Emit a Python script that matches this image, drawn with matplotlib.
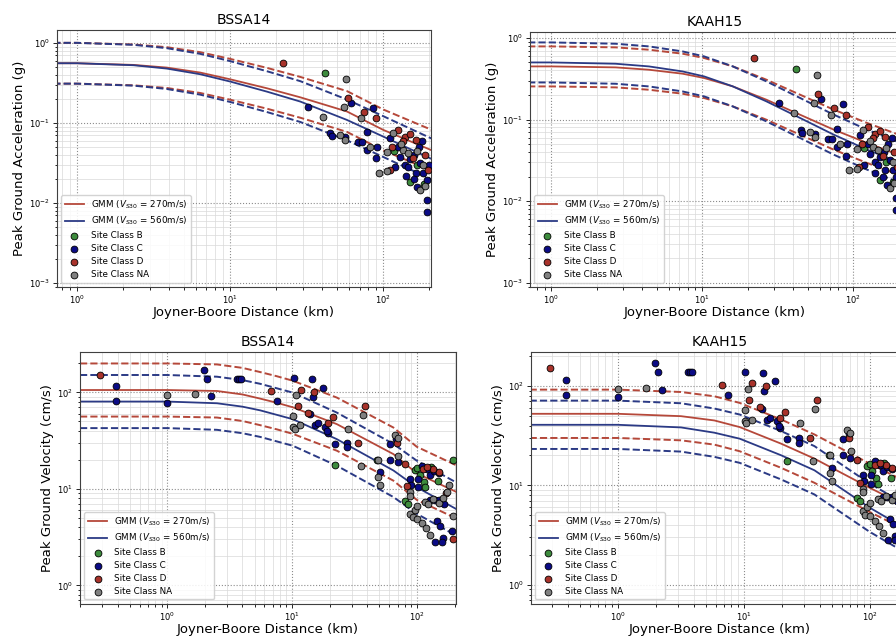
import matplotlib
matplotlib.use("Agg")
import matplotlib.pyplot as plt

# ---- observed PGA (g) vs Joyner-Boore distance (km), by site class ----
pga_B_r = [41.8, 118, 150, 165, 185]
pga_B_y = [0.42, 0.045, 0.018, 0.030, 0.017]
pga_C_r = [32.3, 61.6, 45, 46, 56, 68, 73, 78, 78, 86, 90, 91, 111, 119, 125, 129, 139, 146,
           163, 167, 170, 183, 193, 193, 193, 150, 160, 175, 140, 180, 200, 158]
pga_C_y = [0.158, 0.178, 0.075, 0.068, 0.067, 0.058, 0.058, 0.077, 0.046, 0.154, 0.036, 0.050,
           0.065, 0.028, 0.050, 0.038, 0.030, 0.028, 0.024, 0.016, 0.050, 0.024, 0.0195, 0.011,
           0.0077, 0.035, 0.040, 0.032, 0.022, 0.060, 0.030, 0.020]
pga_D_r = [22.2, 59, 75.2, 90, 114, 125, 139, 157, 163, 188, 196, 110, 135, 150]
pga_D_y = [0.56, 0.205, 0.137, 0.115, 0.050, 0.082, 0.067, 0.036, 0.061, 0.040, 0.026, 0.026,
           0.060, 0.072]
pga_NA_r = [57.3, 55.4, 40.5, 52, 56, 71.1, 82, 94, 106, 106, 116, 135, 146, 175, 183, 188,
            130, 165]
pga_NA_y = [0.355, 0.158, 0.119, 0.071, 0.061, 0.115, 0.050, 0.024, 0.025, 0.043, 0.075, 0.046,
            0.042, 0.0145, 0.030, 0.0165, 0.055, 0.045]

# ---- observed PGV (cm/s) ----
pgv_B_r = [22, 47.5, 80, 84, 96, 105, 113, 116, 147, 195, 100, 130]
pgv_B_y = [17.8, 20, 7.5, 7.0, 15.8, 14, 11.8, 10.4, 12, 20, 16.5, 17]
pgv_C_r = [0.39, 0.39, 1.0, 1.98, 2.08, 2.24, 3.6, 3.75, 3.9, 7.5, 10.3, 14.3, 14.6, 17.8, 13.9,
           15.3, 16.2, 18.4, 19.4, 18.9, 22, 27.5, 27.5, 50.5, 61, 68, 61, 70, 88, 90, 102, 102,
           127, 127, 138, 150, 144, 152, 160, 139, 110, 120, 136, 150, 164, 158, 190]
pgv_C_y = [116, 81, 77, 169, 138, 92, 137, 137, 137, 81, 139, 136, 90, 112, 59, 46, 48, 44, 38,
           40, 29, 30, 27, 15, 29, 33, 20, 19, 12.7, 11, 12.6, 10.4, 14, 7.7, 7.7, 7.7, 4.6,
           4.1, 3.1, 2.8, 17.4, 16, 15.3, 14.5, 6.9, 2.8, 3.7]
pgv_D_r = [0.29, 6.76, 11.7, 11.1, 14.9, 13.4, 19.3, 21.3, 33.5, 38.3, 69, 80, 83, 111, 150,
           135, 195, 120, 170]
pgv_D_y = [151, 102, 106, 72, 101, 61, 48, 55, 30, 72, 30, 18, 10.7, 16, 15, 16, 3.0, 17, 9]
pgv_NA_r = [1.0, 1.67, 10.8, 10.2, 10.2, 10.5, 11.6, 28, 36.7, 35.6, 48.5, 48.5, 50.5, 66, 70,
            71, 88, 88, 88, 92, 96, 100, 100, 110, 118, 127, 116, 123, 135, 150, 173, 195, 160,
            180]
pgv_NA_y = [94, 95, 94, 57, 44, 42, 46, 42, 58, 17.4, 20, 13.3, 11, 36, 34, 22, 9.3, 8.5, 5.5,
            5.1, 6.1, 6.6, 4.9, 4.4, 3.9, 3.3, 7.3, 7.0, 7.8, 7.2, 9.3, 5.2, 8, 11]

# ---- GMM medians (270 m/s and 560 m/s) ----
bssa_pga_r = [0.7, 1.0, 2.34, 3.85, 6.37, 10.0, 17.4, 28.7, 57.9, 100, 210]
bssa_pga_270 = [0.557, 0.557, 0.531, 0.492, 0.426, 0.351, 0.271, 0.209, 0.139, 0.0818, 0.045]
bssa_pga_560 = [0.557, 0.557, 0.526, 0.478, 0.406, 0.329, 0.246, 0.185, 0.109, 0.0675, 0.035]

kaah_pga_r = [0.7, 1.0, 2.66, 4.43, 7.4, 10.3, 15.9, 26.6, 44.3, 74, 123, 210]
kaah_pga_270 = [0.447, 0.447, 0.435, 0.407, 0.364, 0.322, 0.255, 0.175, 0.115, 0.0755, 0.0519,
                0.036]
kaah_pga_560 = [0.50, 0.50, 0.482, 0.447, 0.388, 0.337, 0.255, 0.167, 0.105, 0.0656, 0.043,
                0.029]

bssa_pgv_r = [0.2, 1.0, 2.5, 4.0, 5.55, 7.5, 10.1, 22.8, 64.7, 99.4, 210]
bssa_pgv_270 = [105.6, 105.6, 103.2, 95.0, 86.0, 78.0, 70.0, 46.8, 22.9, 14.5, 9.2]
bssa_pgv_560 = [80.2, 80.2, 77.0, 71.0, 65.0, 58.5, 52.7, 32.7, 15.5, 10.4, 6.1]

kaah_pgv_r = [0.2, 1.0, 3.18, 5.85, 9.3, 19.8, 36.4, 99.4, 161, 210]
kaah_pgv_270 = [52.5, 52.5, 49.7, 45.0, 38.6, 26.3, 18.6, 9.5, 7.0, 6.0]
kaah_pgv_560 = [40.7, 40.7, 38.3, 33.9, 29.5, 20.1, 14.2, 6.0, 4.2, 3.6]

# one-sigma spread (log10 units) of each model
sigma = {"bssa_pga": 0.255, "kaah_pga": 0.245, "bssa_pgv": 0.275, "kaah_pgv": 0.243}

RED = "#b5483a"
BLUE = "#2b3a85"
site_colors = {"B": "#3d8b3d", "C": "#0b0b85", "D": "#a8322a", "NA": "#808080"}


def draw_panel(ax, title, r, med270, med560, sig, obs, ylabel):
    lo, hi = 10 ** (-sig), 10 ** sig
    for med, col, v in [(med270, RED, 270), (med560, BLUE, 560)]:
        ax.plot(r, med, color=col, lw=1.3, zorder=2,
                label=r"GMM ($V_{S30}$ = %dm/s)" % v)
        ax.plot(r, [m * hi for m in med], color=col, lw=1.4, ls="--", zorder=2)
        ax.plot(r, [m * lo for m in med], color=col, lw=1.4, ls="--", zorder=2)

    for cls in ["B", "C", "D", "NA"]:
        rr, yy = obs[cls]
        ax.scatter(rr, yy, s=24, color=site_colors[cls], edgecolors="black",
                   linewidths=0.6, zorder=3, label="Site Class %s" % cls)

    ax.set_xscale("log")
    ax.set_yscale("log")
    ax.set_title(title, fontsize=10, pad=4)
    ax.set_xlabel("Joyner-Boore Distance (km)", fontsize=9.5, labelpad=0)
    ax.set_ylabel(ylabel, fontsize=9.5, labelpad=2)
    ax.tick_params(labelsize=6, which="both", length=3, width=0.6, pad=2)
    ax.tick_params(which="minor", length=1.8)
    ax.grid(True, which="major", ls=":", color="0.55", lw=0.8)
    ax.grid(True, which="minor", ls="-", color="0.85", lw=0.5)
    for sp in ax.spines.values():
        sp.set_color("0.25")
    ax.legend(loc="lower left", fontsize=6.3, framealpha=0.85, edgecolor="0.8",
              handlelength=2.2, borderpad=0.4, labelspacing=0.45)


fig = plt.figure(figsize=(8.96, 6.41), dpi=100)

pga_obs = {"B": (pga_B_r, pga_B_y), "C": (pga_C_r, pga_C_y),
           "D": (pga_D_r, pga_D_y), "NA": (pga_NA_r, pga_NA_y)}
pgv_obs = {"B": (pgv_B_r, pgv_B_y), "C": (pgv_C_r, pgv_C_y),
           "D": (pgv_D_r, pgv_D_y), "NA": (pgv_NA_r, pgv_NA_y)}

ax1 = fig.add_axes([0.0636, 0.5523, 0.4174, 0.4009])
draw_panel(ax1, "BSSA14", bssa_pga_r, bssa_pga_270, bssa_pga_560, sigma["bssa_pga"],
           pga_obs, "Peak Ground Acceleration (g)")
ax1.set_xlim(0.74, 205)
ax1.set_ylim(8.9e-4, 1.45)

ax2 = fig.add_axes([0.5915, 0.5523, 0.4130, 0.3978])
draw_panel(ax2, "KAAH15", kaah_pga_r, kaah_pga_270, kaah_pga_560, sigma["kaah_pga"],
           pga_obs, "Peak Ground Acceleration (g)")
ax2.set_xlim(0.72, 205)
ax2.set_ylim(8.9e-4, 1.18)

ax3 = fig.add_axes([0.0893, 0.0580, 0.4196, 0.3930])
draw_panel(ax3, "BSSA14", bssa_pgv_r, bssa_pgv_270, bssa_pgv_560, sigma["bssa_pgv"],
           pgv_obs, "Peak Ground Velocity (cm/s)")
ax3.set_xlim(0.2, 205)
ax3.set_ylim(0.645, 262)

ax4 = fig.add_axes([0.5926, 0.0580, 0.4219, 0.3930])
draw_panel(ax4, "KAAH15", kaah_pgv_r, kaah_pgv_270, kaah_pgv_560, sigma["kaah_pgv"],
           pgv_obs, "Peak Ground Velocity (cm/s)")
ax4.set_xlim(0.205, 205)
ax4.set_ylim(0.645, 220)

fig.savefig("out.png", dpi=100)
plt.close(fig)
